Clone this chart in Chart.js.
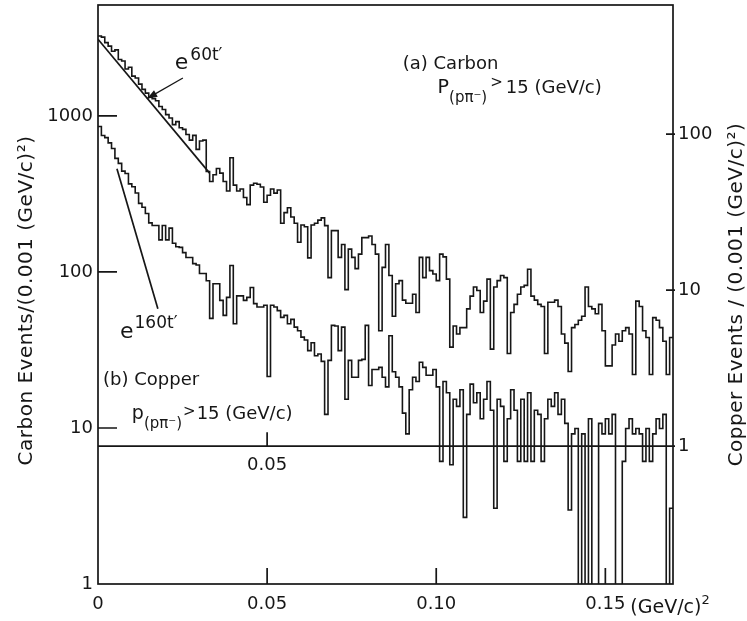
<!DOCTYPE html>
<html>
<head>
<meta charset="utf-8">
<script src="https://cdn.jsdelivr.net/npm/chart.js@4.4.1/dist/chart.umd.min.js"></script>
<style>
  html, body { margin: 0; padding: 0; background: #fff; }
</style>
</head>
<body>
<canvas id="tDist" width="747" height="621"></canvas>
<script>
// t' histograms, 0.001 (GeV/c)^2 bins from 0 to 0.170
const binWidth = 0.001;

// (a) carbon, events per bin (left axis)
const carbonCounts = [
  3250, 3200, 2950, 2800, 2600, 2650, 2300, 2250, 2000, 2050,
  1800, 1750, 1600, 1480, 1400, 1320, 1290, 1250, 1150, 1100,
  1020, 970, 880, 920, 840, 820, 760, 700, 750, 610,
  690, 700, 440, 380, 420, 460, 430, 380, 330, 540,
  360, 330, 340, 300, 270, 360, 370, 365, 350, 280,
  310, 340, 320, 335, 205, 240, 258, 225, 205, 155,
  200, 195, 123, 200, 205, 215, 222, 198, 92, 184,
  184, 124, 150, 77, 140, 124, 105, 130, 166, 166,
  170, 150, 130, 42, 107, 150, 95, 52, 84, 88,
  66, 63, 63, 72, 55, 124, 92, 124, 102, 97,
  88, 130, 125, 90, 33, 45, 40, 44, 44, 58,
  70, 80, 76, 55, 65, 90, 32, 80, 88, 95,
  92, 30, 55, 62, 72, 80, 82, 104, 70, 66,
  62, 60, 30, 64, 64, 66, 60, 40, 35, 23,
  44, 46, 49, 52, 80, 60, 58, 54, 62, 42,
  25, 25, 34, 40, 36, 42, 44, 40, 22, 65,
  60, 42, 38, 22, 51, 49, 44, 36, 22, 38
];

// (b) copper, events per bin (right axis); 0 = empty bin
const copperCounts = [
  112, 98, 95, 88, 81, 70, 65, 58, 56, 48,
  46, 42, 36, 34, 31, 27, 26, 26, 21, 26,
  21, 25, 20, 19, 18.8, 17.4, 16.2, 16.2, 14.8, 14.5,
  12.8, 12.8, 11.5, 6.6, 11, 11, 8.6, 6.9, 9, 14.4,
  6.1, 9.2, 9.2, 8.6, 9, 10.4, 8.2, 7.8, 7.8, 8,
  2.8, 8, 7.8, 7.4, 6.7, 6.9, 6.1, 6.5, 5.8, 5.5,
  5, 4.8, 4.1, 4.6, 3.8, 3.9, 3.5, 1.6, 3.55, 5.95,
  5.9, 4.1, 5.8, 2.0, 3.55, 2.77, 2.77, 3.55, 3.6, 5.95,
  2.45, 3.1, 3.1, 3.2, 2.77, 2.4, 5.1, 3.0, 2.77, 2.4,
  1.63, 1.2, 2.3, 2.77, 2.6, 3.45, 3.2, 2.85, 2.85, 3.1,
  2.4, 0.8, 2.6, 2.2, 0.76, 2.0, 1.8, 2.3, 0.35, 1.6,
  2.5, 1.9, 2.2, 1.5, 2.0, 2.6, 1.7, 0.4, 2.0, 1.8,
  0.8, 1.5, 2.3, 1.7, 0.8, 2.0, 0.8, 2.2, 0.8, 1.7,
  1.6, 0.8, 1.5, 2.0, 1.8, 2.2, 1.6, 2.0, 1.4, 0.39,
  1.2, 1.3, 0, 1.2, 0, 1.5, 0, 0, 1.4, 1.2,
  1.5, 1.2, 1.6, 0, 0, 0.8, 1.3, 1.5, 1.2, 1.3,
  1.2, 0.8, 1.3, 0.8, 1.2, 1.5, 1.3, 1.6, 0, 0.4
];

// exponential fits, drawn as straight lines on the log axes
const carbonFitT = [0, 0.033];
const carbonFitV = [3100, 430];
const copperFitT = [0.0056, 0.0177];
const copperFitV = [60, 7.6];

const xTicks = [0, 0.05, 0.10, 0.15];
const xTickLabels = ['0', '0.05', '0.10', '0.15'];
const carbonTicks = [1, 10, 100, 1000];
const copperTicks = [1, 10, 100];

const carbonMax = 5140;
const copperOffset = 7.64;   // copper "1" sits at carbon 7.64
const copperFloor = 0.02;    // empty copper bins fall off the bottom

const FONT = '"DejaVu Sans", sans-serif';
const INK = '#161616';

function histPoints(counts, floor) {
  const pts = counts.map((v, i) => ({ x: i * binWidth, y: v > 0 ? v : floor }));
  pts.push({ x: counts.length * binWidth, y: pts[pts.length - 1].y });
  return pts;
}

function fitPoints(ts, vs) {
  return ts.map((t, i) => ({ x: t, y: vs[i] }));
}

// draws a run of text pieces (size, vertical shift) left to right
function drawRun(ctx, x, y, parts) {
  parts.forEach(p => {
    ctx.font = `${p.size}px ${FONT}`;
    ctx.fillText(p.text, x, y + (p.dy || 0));
    x += ctx.measureText(p.text).width + (p.gap || 0);
  });
}

// keep the plot box fixed: no extra room for end labels
function fixBox(size) {
  return s => {
    if (s.isHorizontal()) s.height = size; else s.width = size;
    s.paddingTop = s.paddingBottom = s.paddingLeft = s.paddingRight = 0;
  };
}

const overlay = {
  id: 'overlay',
  afterDraw(chart) {
    const { ctx, chartArea: a, scales: { x, y, y2 } } = chart;
    const at = (t, v) => [x.getPixelForValue(t), y.getPixelForValue(v)];
    ctx.save();
    ctx.strokeStyle = INK;
    ctx.fillStyle = INK;
    ctx.lineWidth = 1.7;
    ctx.strokeRect(a.left, a.top, a.right - a.left, a.bottom - a.top);

    ctx.beginPath();
    carbonTicks.forEach(v => {
      const py = y.getPixelForValue(v);
      if (py < a.bottom - 2) { ctx.moveTo(a.left, py); ctx.lineTo(a.left + 19, py); }
    });
    copperTicks.forEach(v => {
      const py = y2.getPixelForValue(v);
      ctx.moveTo(a.right + 2, py); ctx.lineTo(a.right - 7, py);
    });
    xTicks.forEach(v => {
      if (v > 0) {
        const px = x.getPixelForValue(v);
        ctx.moveTo(px, a.bottom); ctx.lineTo(px, a.bottom - 16);
      }
    });
    // copper zero line with its own 0.05 tick
    const base = y2.getPixelForValue(1);
    const p05 = x.getPixelForValue(0.05);
    ctx.moveTo(a.left, base); ctx.lineTo(a.right, base);
    ctx.moveTo(p05, base); ctx.lineTo(p05, base - 14);
    ctx.stroke();

    ctx.textBaseline = 'alphabetic';
    ctx.textAlign = 'center';
    ctx.font = `18px ${FONT}`;
    ctx.fillText('0.05', p05, base + 24);

    // axis unit after the last tick label
    ctx.textAlign = 'left';
    const p15 = x.getPixelForValue(0.15);
    drawRun(ctx, p15 + 25, a.bottom + 29, [
      { text: '(GeV/c)', size: 19 },
      { text: '2', size: 13, dy: -9 }
    ]);

    // axis titles, reading upward
    ctx.textAlign = 'center';
    ctx.textBaseline = 'middle';
    const midY = (a.top + a.bottom) / 2;
    ctx.font = `20px ${FONT}`;
    ctx.letterSpacing = '0.5px';
    ctx.save();
    ctx.translate(27, midY + 6);
    ctx.rotate(-Math.PI / 2);
    ctx.fillText('Carbon Events/(0.001 (GeV/c)\u00b2)', 0, 0);
    ctx.restore();
    ctx.save();
    ctx.translate(737, midY);
    ctx.rotate(-Math.PI / 2);
    ctx.fillText('Copper Events / (0.001 (GeV/c)\u00b2)', 0, 0);
    ctx.restore();
    ctx.letterSpacing = '0px';

    // fit labels and arrow
    ctx.textAlign = 'left';
    ctx.textBaseline = 'alphabetic';
    let [tx, ty] = at(0.0227, 2000);
    drawRun(ctx, tx, ty, [
      { text: 'e', size: 22, gap: 2 },
      { text: '60t\u2032', size: 17, dy: -9 }
    ]);
    const [ax0, ay0] = at(0.0251, 1750);
    const [ax1, ay1] = at(0.01447, 1290);
    ctx.beginPath();
    ctx.lineWidth = 1.3;
    ctx.moveTo(ax0, ay0); ctx.lineTo(ax1, ay1);
    ctx.stroke();
    const ang = Math.atan2(ay1 - ay0, ax1 - ax0);
    ctx.beginPath();
    ctx.moveTo(ax1, ay1);
    ctx.lineTo(ax1 - 11 * Math.cos(ang - 0.35), ay1 - 11 * Math.sin(ang - 0.35));
    ctx.lineTo(ax1 - 11 * Math.cos(ang + 0.35), ay1 - 11 * Math.sin(ang + 0.35));
    ctx.closePath();
    ctx.fill();

    [tx, ty] = at(0.0065, 38);
    drawRun(ctx, tx, ty, [
      { text: 'e', size: 22, gap: 1 },
      { text: '160t\u2032', size: 17, dy: -10 }
    ]);

    // sample labels
    [tx, ty] = at(0.0901, 2000);
    drawRun(ctx, tx, ty, [{ text: '(a) Carbon', size: 18 }]);
    [tx, ty] = at(0.1004, 1400);
    drawRun(ctx, tx, ty, [
      { text: 'P', size: 19 },
      { text: '(p\u03c0\u207b)', size: 15, dy: 9, gap: 3 },
      { text: '>', size: 15, dy: -6, gap: 3 },
      { text: '15 (GeV/c)', size: 18 }
    ]);

    [tx, ty] = at(0.0015, 18.8);
    drawRun(ctx, tx, ty, [{ text: '(b) Copper', size: 18 }]);
    [tx, ty] = at(0.0100, 11.4);
    drawRun(ctx, tx, ty, [
      { text: 'p', size: 19 },
      { text: '(p\u03c0\u207b)', size: 15, dy: 9, gap: 1 },
      { text: '>', size: 15, dy: -3, gap: 1 },
      { text: '15 (GeV/c)', size: 18 }
    ]);
    ctx.restore();
  }
};

const tickFont = { family: FONT, size: 18 };

new Chart(document.getElementById('tDist'), {
  type: 'line',
  data: {
    datasets: [
      {
        label: 'Carbon',
        data: histPoints(carbonCounts, 1),
        yAxisID: 'y',
        stepped: 'before',
        borderColor: INK,
        borderWidth: 1.6,
        pointRadius: 0,
        fill: false
      },
      {
        label: 'Copper',
        data: histPoints(copperCounts, copperFloor),
        yAxisID: 'y2',
        stepped: 'before',
        borderColor: INK,
        borderWidth: 1.6,
        pointRadius: 0,
        fill: false
      },
      {
        label: 'e^60t',
        data: fitPoints(carbonFitT, carbonFitV),
        yAxisID: 'y',
        borderColor: INK,
        borderWidth: 1.7,
        pointRadius: 0
      },
      {
        label: 'e^160t',
        data: fitPoints(copperFitT, copperFitV),
        yAxisID: 'y2',
        borderColor: INK,
        borderWidth: 1.7,
        pointRadius: 0
      }
    ]
  },
  options: {
    responsive: false,
    animation: false,
    layout: { padding: { top: 5, left: 0, right: 0, bottom: 0 } },
    plugins: {
      legend: { display: false },
      tooltip: { enabled: false }
    },
    scales: {
      x: {
        type: 'linear',
        min: 0,
        max: 0.17,
        afterBuildTicks: s => { s.ticks = xTicks.map(v => ({ value: v })); },
        afterFit: fixBox(37),
        ticks: {
          autoSkip: false,
          maxRotation: 0,
          padding: 10,
          color: INK,
          font: tickFont,
          callback: (v, i) => xTickLabels[i]
        },
        grid: { display: false, drawTicks: false },
        border: { display: false }
      },
      y: {
        type: 'logarithmic',
        position: 'left',
        min: 1,
        max: carbonMax,
        afterBuildTicks: s => { s.ticks = carbonTicks.map(v => ({ value: v })); },
        afterFit: fixBox(98),
        ticks: {
          padding: 5,
          color: INK,
          font: tickFont,
          callback: v => String(v)
        },
        grid: { display: false, drawTicks: false },
        border: { display: false }
      },
      y2: {
        type: 'logarithmic',
        position: 'right',
        min: 1 / copperOffset,
        max: carbonMax / copperOffset,
        afterBuildTicks: s => { s.ticks = copperTicks.map(v => ({ value: v })); },
        afterFit: fixBox(74),
        ticks: {
          padding: 5,
          color: INK,
          font: tickFont,
          callback: v => String(v)
        },
        grid: { display: false, drawTicks: false },
        border: { display: false }
      }
    }
  },
  plugins: [overlay]
});
</script>
</body>
</html>
